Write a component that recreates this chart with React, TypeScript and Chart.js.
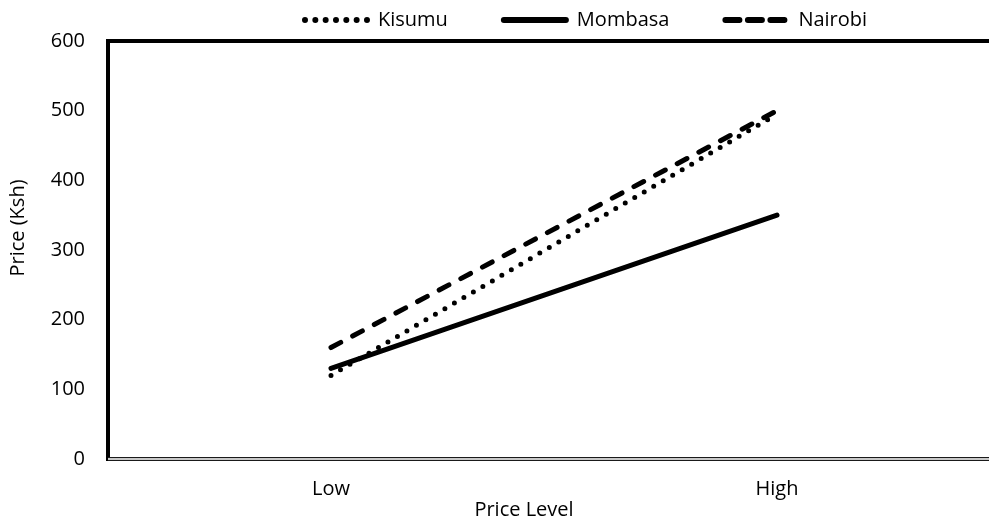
import React, { useEffect, useRef } from "react";
import { Chart, registerables } from "chart.js";

Chart.register(...registerables);

// Price levels and city price series (Ksh)
const categories = ["Low", "High"];
const kisumu = [120, 495];
const mombasa = [130, 350];
const nairobi = [160, 500];
const yTickValues = [0, 100, 200, 300, 400, 500, 600];
const xTitle = "Price Level";
const yTitle = "Price (Ksh)";

const FONT = "'Open Sans', 'Noto Sans', sans-serif";

type LegendEntry = { label: string; dash: number[]; width: number };
const legendEntries: LegendEntry[] = [
  { label: "Kisumu", dash: [0, 10.33], width: 6 },
  { label: "Mombasa", dash: [], width: 6 },
  { label: "Nairobi", dash: [14, 8.5], width: 6 },
];

// Frame, axis titles and legend drawn on top of the chart
const decorPlugin = {
  id: "decor",
  afterDraw(chart: any) {
    const { ctx, chartArea: a } = chart;
    const w = a.right - a.left;
    ctx.save();

    // heavy top and left borders
    ctx.fillStyle = "#000";
    ctx.fillRect(a.left - 2, a.top - 2, w + 2, 4);
    ctx.fillRect(a.left - 2, a.top - 2, 4, a.bottom - a.top + 4);

    // double rule along the category axis
    ctx.fillStyle = "#1a1a1a";
    ctx.fillRect(a.left, a.bottom - 2, w, 1);
    ctx.fillRect(a.left, a.bottom + 1, w, 1);
    ctx.fillStyle = "#c8c8c8";
    ctx.fillRect(a.left, a.bottom - 1, w, 2);

    // axis titles
    ctx.fillStyle = "#000";
    ctx.font = `20px ${FONT}`;
    ctx.textAlign = "center";
    ctx.textBaseline = "middle";
    ctx.fillText(xTitle, 524, 510);
    ctx.save();
    ctx.translate(18, 228);
    ctx.rotate(-Math.PI / 2);
    ctx.fillText(yTitle, 0, 0);
    ctx.restore();

    // legend
    const sampleW = 68;
    const textGap = 8;
    const itemGap = 53;
    const y = 20;
    let x = 302;
    ctx.textAlign = "left";
    for (const e of legendEntries) {
      ctx.beginPath();
      ctx.setLineDash(e.dash);
      ctx.lineCap = "round";
      ctx.lineWidth = e.width;
      ctx.strokeStyle = "#000";
      ctx.moveTo(x + 3, y);
      ctx.lineTo(x + sampleW - 3, y);
      ctx.stroke();
      ctx.setLineDash([]);
      const tx = x + sampleW + textGap;
      ctx.fillText(e.label, tx, y);
      x = tx + ctx.measureText(e.label).width + itemGap;
    }
    ctx.restore();
  },
};

export default function App() {
  const canvasRef = useRef<HTMLCanvasElement | null>(null);

  useEffect(() => {
    if (!canvasRef.current) return;
    Chart.defaults.font.family = FONT;
    const chart = new Chart(canvasRef.current, {
      type: "line",
      data: {
        labels: categories,
        datasets: [
          {
            label: "Kisumu",
            data: kisumu,
            borderColor: "#000",
            borderWidth: 5,
            borderDash: [0, 11],
            borderCapStyle: "round",
            pointRadius: 0,
            tension: 0,
          },
          {
            label: "Mombasa",
            data: mombasa,
            borderColor: "#000",
            borderWidth: 5,
            borderCapStyle: "round",
            pointRadius: 0,
            tension: 0,
          },
          {
            label: "Nairobi",
            data: nairobi,
            borderColor: "#000",
            borderWidth: 5,
            borderDash: [11, 13.5],
            borderCapStyle: "round",
            pointRadius: 0,
            tension: 0,
          },
        ],
      },
      options: {
        responsive: false,
        animation: false,
        layout: { padding: { top: 41, right: 0, bottom: 0, left: 0 } },
        plugins: {
          legend: { display: false },
          tooltip: { enabled: false },
        },
        scales: {
          x: {
            type: "category",
            offset: true,
            grid: { display: false, drawTicks: false },
            border: { display: false },
            ticks: { color: "#000", font: { size: 20 }, padding: 18 },
            afterFit: (s: any) => {
              s.height = 62;
            },
          },
          y: {
            min: 0,
            max: 600,
            grid: { display: false, drawTicks: false },
            border: { display: false },
            afterBuildTicks: (s: any) => {
              s.ticks = yTickValues.map((v) => ({ value: v }));
            },
            ticks: { color: "#000", font: { size: 20 }, padding: 23 },
            afterFit: (s: any) => {
              s.width = 108;
            },
          },
        },
      },
      plugins: [decorPlugin],
    });
    return () => chart.destroy();
  }, []);

  return (
    <div
      style={{
        position: "fixed",
        left: 0,
        top: 0,
        width: 989,
        height: 521,
        overflow: "hidden",
        background: "#fff",
      }}
    >
      <canvas
        ref={canvasRef}
        width={1000}
        height={521}
        style={{ display: "block", width: 1000, height: 521 }}
      />
    </div>
  );
}
